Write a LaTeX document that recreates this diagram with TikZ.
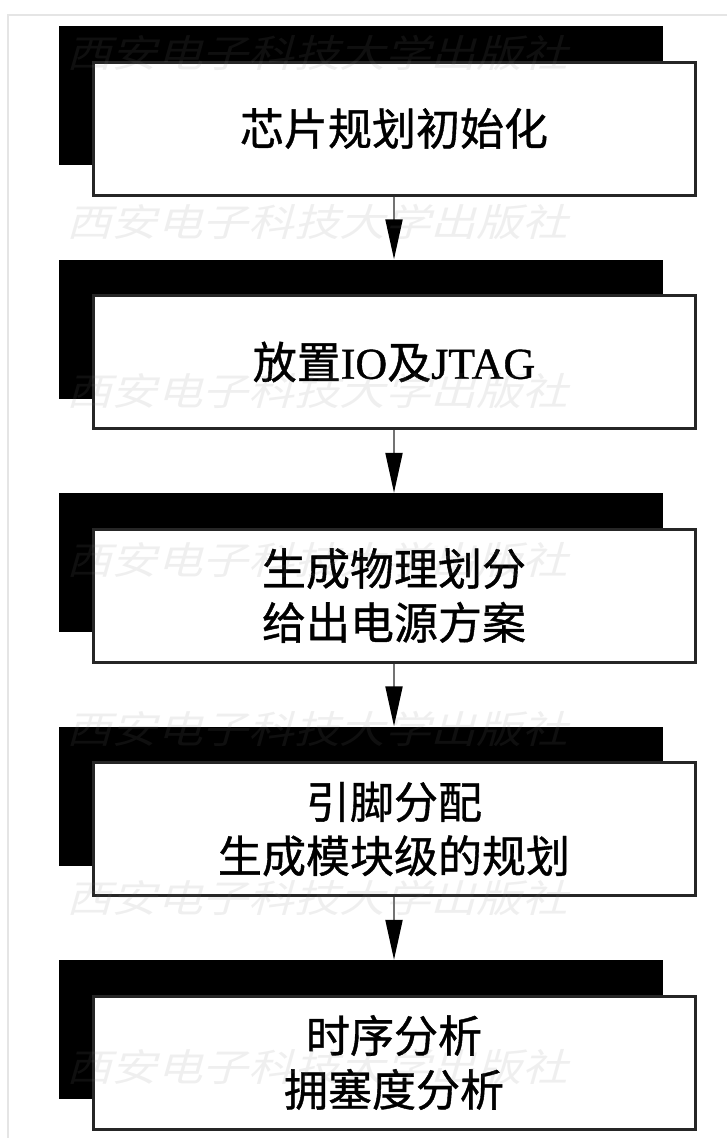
\documentclass[tikz,border=0pt]{standalone}
\usepackage{fontspec}
\setmainfont{Noto Sans CJK SC}[FakeBold=0.9]
\newfontfamily\latinserif{Liberation Serif}[FakeBold=0.9]
\newfontfamily\wmfont{Noto Sans CJK SC}
\usetikzlibrary{arrows.meta}
\begin{document}
\begin{tikzpicture}[x=1pt,y=-1pt,
  whitebox/.style={draw=black!85, line width=3pt, fill=white,
    minimum width=602pt, minimum height=133pt, inner sep=0pt, align=center,
    font=\fontsize{44}{54}\selectfont},
  shadowbox/.style={fill=black, minimum width=604pt, minimum height=139pt, inner sep=0pt},
  flow/.style={draw=black!55, line width=2pt,
    -{Triangle[length=40pt,width=17pt,color=black]}},
  wmark/.style={text=black!50, text opacity=0.12, inner sep=0pt,
    font=\wmfont\fontsize{38}{38}\selectfont, xslant=0.28, xscale=1.2},
  framecol/.style={draw=black!10, line width=1.5pt}
]
\useasboundingbox (0,0) rectangle (727,1138);
\fill[white] (0,0) rectangle (727,1138);
\draw[framecol] (8,1138) -- (8,15) -- (727,15);

% shadow boxes
\node[shadowbox] (b1) at (361,95.5) {};
\node[shadowbox] (b2) at (361,329) {};
\node[shadowbox] (b3) at (361,562.5) {};
\node[shadowbox] (b4) at (361,796) {};
\node[shadowbox] (b5) at (361,1029.5) {};

% white boxes
\node[whitebox] (w1) at (394,128.5) {芯片规划初始化};
\node[whitebox] (w2) at (394,362) {放置{\latinserif IO}及{\latinserif JTAG}};
\node[whitebox] (w3) at (394,595.5) {生成物理划分\\给出电源方案};
\node[whitebox] (w4) at (394,829) {引脚分配\\生成模块级的规划};
\node[whitebox] (w5) at (394,1062.5) {时序分析\\拥塞度分析};

% connectors
\draw[flow] (w1.south) -- (w1.south |- b2.north);
\draw[flow] (w2.south) -- (w2.south |- b3.north);
\draw[flow] (w3.south) -- (w3.south |- b4.north);
\draw[flow] (w4.south) -- (w4.south |- b5.north);

% watermark
\foreach \wy [count=\i] in {53,222,391,560,729,898,1067}
  \node[wmark] (wm\i) at (321,\wy) {西安电子科技大学出版社};
\end{tikzpicture}
\end{document}
